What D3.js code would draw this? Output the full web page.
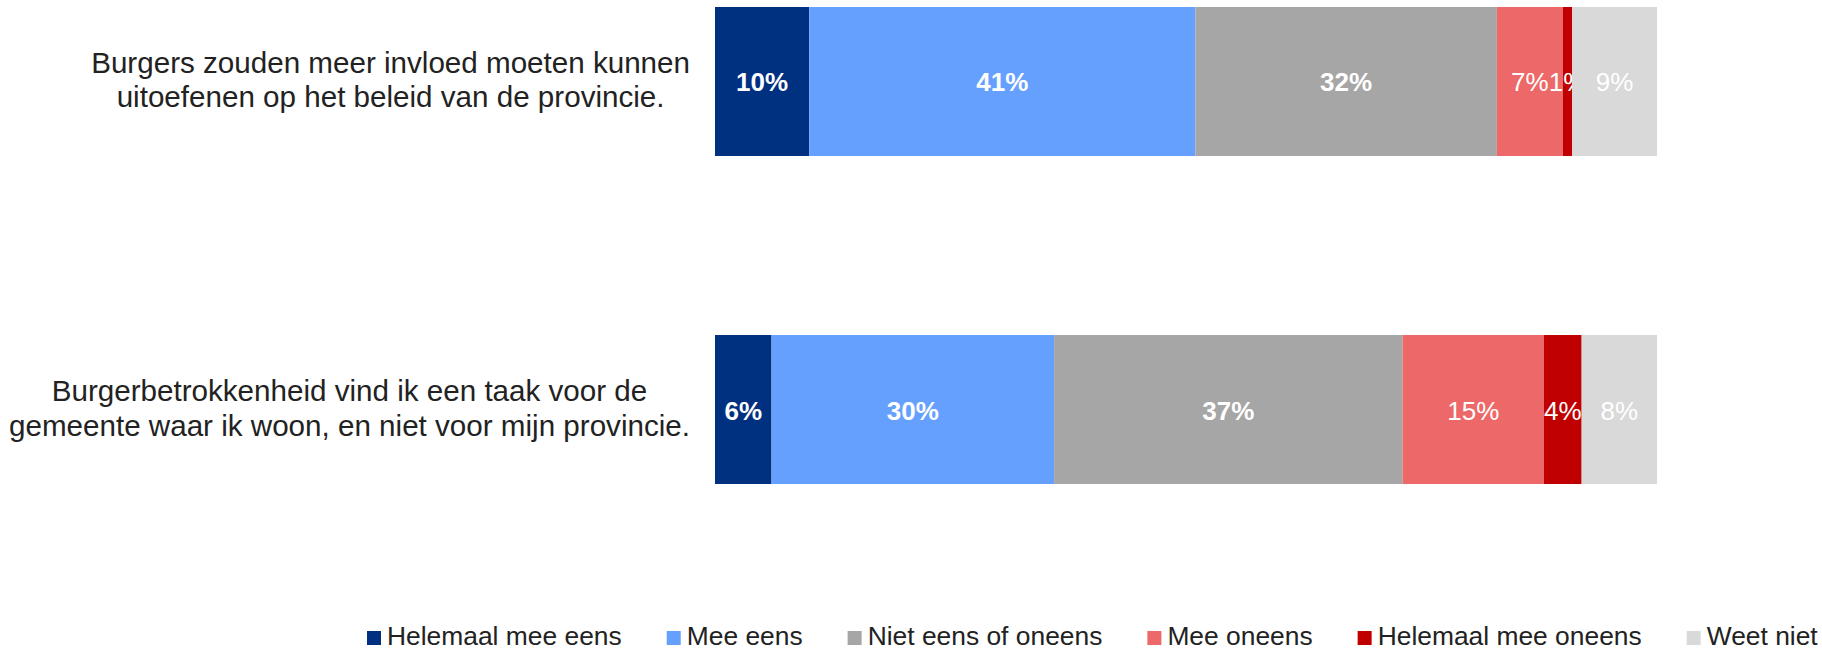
<!DOCTYPE html>
<html>
<head>
<meta charset="utf-8">
<script src="https://cdn.jsdelivr.net/npm/d3@7"></script>
<style>
  body { margin: 0; background: #fff; }
  svg text { font-family: Arial, "Liberation Sans", sans-serif; }
</style>
</head>
<body>
<script>
// data
var categories = [
  ["Burgers zouden meer invloed moeten kunnen", "uitoefenen op het beleid van de provincie."],
  ["Burgerbetrokkenheid vind ik een taak voor de", "gemeente waar ik woon, en niet voor mijn provincie."]
];
var series = ["Helemaal mee eens", "Mee eens", "Niet eens of oneens", "Mee oneens", "Helemaal mee oneens", "Weet niet"];
var values = [
  [10, 41, 32, 7, 1, 9],
  [6, 30, 37, 15, 4, 8]
];
var colors = ["#003080", "#66a0ff", "#a6a6a6", "#ed6868", "#c00000", "#d9d9d9"];
var boldLabel = [true, true, true, false, false, false];

var W = 1822, H = 650;
var svg = d3.select("body").append("svg")
    .attr("width", W)
    .attr("height", H);

var x = d3.scaleLinear().domain([0, 100]).range([715, 1657]);
var y = d3.scaleBand().domain(d3.range(categories.length)).range([7, 484]).paddingInner(0.5458);

// stacking
var rows = values.map(function(v, i) {
  var o = { idx: i };
  series.forEach(function(s, j) { o[s] = v[j]; });
  return o;
});
var stacked = d3.stack().keys(series)(rows);

var g = svg.append("g");

var layers = g.selectAll(".layer")
    .data(stacked)
  .enter().append("g")
    .attr("class", "layer")
    .attr("fill", function(d, i) { return colors[i]; });

layers.selectAll("rect")
    .data(function(d) { return d; })
  .enter().append("rect")
    .attr("x", function(d) { return x(d[0]); })
    .attr("y", function(d) { return y(d.data.idx); })
    .attr("width", function(d) { return x(d[1]) - x(d[0]); })
    .attr("height", y.bandwidth());

layers.each(function(layer, i) {
  d3.select(this).selectAll("text")
      .data(layer)
    .enter().append("text")
      .attr("x", function(d) { return (x(d[0]) + x(d[1])) / 2; })
      .attr("y", function(d) { return y(d.data.idx) + y.bandwidth() / 2 + 10; })
      .attr("text-anchor", "middle")
      .attr("fill", "#fff")
      .style("font-size", "26px")
      .style("font-weight", boldLabel[i] ? "bold" : "normal")
      .text(function(d) { return (d[1] - d[0]) + "%"; });
});

// category labels (centered lines, block right-aligned)
var labelRight = 690;
categories.forEach(function(lines, i) {
  var cy = y(i) + y.bandwidth() / 2;
  var t = g.append("g").attr("class", "cat");
  var texts = t.selectAll("text")
      .data(lines)
    .enter().append("text")
      .attr("y", function(d, k) { return cy - 8.5 + k * 34.5; })
      .attr("text-anchor", "middle")
      .attr("fill", "#222")
      .style("font-size", "29.6px")
      .text(function(d) { return d; });
  var maxW = 0;
  texts.each(function() { maxW = Math.max(maxW, this.getComputedTextLength()); });
  texts.attr("x", labelRight - maxW / 2);
});

// legend
var legend = svg.append("g").attr("class", "legend");
var lx = 367;
series.forEach(function(s, i) {
  var item = legend.append("g").attr("transform", "translate(" + lx + ",631)");
  item.append("rect")
      .attr("width", 14)
      .attr("height", 14)
      .attr("fill", colors[i]);
  var txt = item.append("text")
      .attr("x", 20)
      .attr("y", 14)
      .attr("fill", "#222")
      .style("font-size", "26.4px")
      .text(s);
  lx += 20 + txt.node().getComputedTextLength() + 45;
});
</script>
</body>
</html>
